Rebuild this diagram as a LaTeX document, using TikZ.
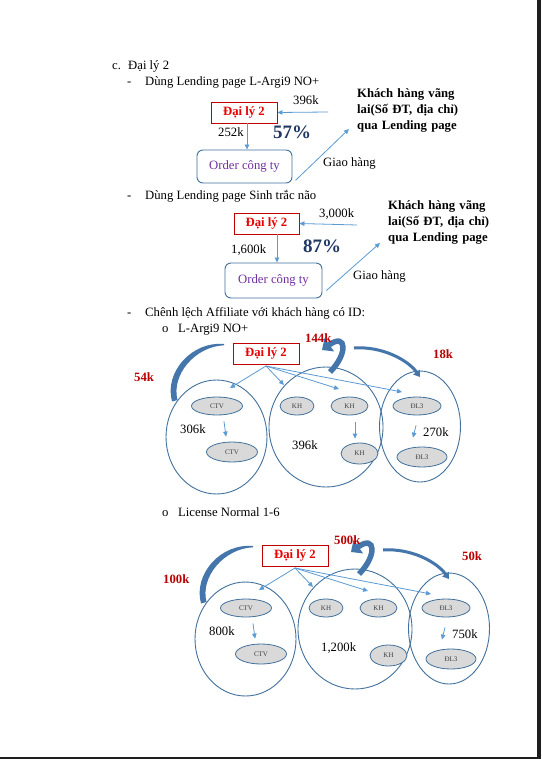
\documentclass[tikz,border=0pt]{standalone}
\usepackage{fontspec}
\setmainfont{Liberation Serif}
\usetikzlibrary{arrows.meta,shapes.geometric}
\definecolor{lineblue}{RGB}{91,155,213}
\definecolor{darkblue}{RGB}{65,113,156}
\definecolor{arcblue}{RGB}{68,118,172}
\definecolor{boxred}{RGB}{192,0,0}
\definecolor{txtred}{RGB}{235,0,0}
\definecolor{lblred}{RGB}{185,0,0}
\definecolor{pctblue}{RGB}{31,56,100}
\definecolor{purp}{RGB}{112,48,160}
\definecolor{smgray}{RGB}{217,217,217}
\definecolor{pageshadow}{RGB}{30,30,30}
\tikzset{
  txt/.style={anchor=base west, inner sep=0, font=\fontsize{12.7}{15.5}\selectfont},
  redlbl/.style={anchor=base west, inner sep=0, text=lblred, font=\fontsize{12.7}{15.5}\selectfont\bfseries},
  pct/.style={anchor=base west, inner sep=0, text=pctblue, font=\fontsize{19}{20}\selectfont\bfseries},
  khtxt/.style={anchor=base west, inner sep=0, text width=120pt, align=left, font=\fontsize{12.7}{16}\selectfont\bfseries},
  redbox/.style={draw=boxred, line width=0.9pt, minimum width=66pt, minimum height=21pt, inner sep=0, text=txtred, font=\fontsize{12.7}{15}\selectfont\bfseries},
  orderbox/.style={draw=darkblue, rounded corners=6pt, line width=0.9pt, inner sep=0, text=purp, font=\fontsize{12.7}{15}\selectfont},
  thinarr/.style={draw=lineblue, line width=0.8pt, -{Triangle[length=5pt,width=4.5pt]}},
  bigell/.style={ellipse, draw=darkblue, line width=0.9pt, inner sep=0},
  smell/.style={ellipse, draw=darkblue, fill=smgray, line width=0.8pt, inner sep=0, text=black!75, font=\fontsize{7}{8}\selectfont},
  hookarr/.style={draw=arcblue, line width=5.5pt, -{Triangle[length=9pt,width=16pt]}},
  overarr/.style={draw=arcblue, line width=3pt, -{Triangle[length=6pt,width=8pt]}},
}
\newcommand\affblock[6]{%
  \node[redbox] (box) at (266,353.5) {Đại lý 2};
  \coordinate (fan) at (266,366);
  \node[bigell, minimum width=101pt, minimum height=114pt] (eL) at (216.5,437) {};
  \node[bigell, minimum width=114pt, minimum height=120pt] (eM) at (326,427) {};
  \node[bigell, minimum width=81pt, minimum height=111pt] (eR) at (420,426.5) {};
  \node[smell, minimum width=51pt, minimum height=18pt] (ctv1) at (217,406) {CTV};
  \node[smell, minimum width=51pt, minimum height=20pt] (ctv2) at (232,452) {CTV};
  \node[smell, minimum width=34pt, minimum height=18pt] (kh1) at (297,406) {KH};
  \node[smell, minimum width=37pt, minimum height=18pt] (kh2) at (349.5,406) {KH};
  \node[smell, minimum width=37pt, minimum height=21pt] (kh3) at (359.5,453.5) {KH};
  \node[smell, minimum width=48pt, minimum height=18pt] (dl1) at (417,406) {ĐL3};
  \node[smell, minimum width=50pt, minimum height=20pt] (dl2) at (422,457) {ĐL3};
  \coordinate (t1) at (230,388);
  \coordinate (t2) at (284,385);
  \coordinate (t3) at (339,389);
  \coordinate (t4) at (402,392);
  \draw[thinarr] (fan) -- (t1);
  \draw[thinarr] (fan) -- (t2);
  \draw[thinarr] (fan) -- (t3);
  \draw[thinarr] (fan) -- (t4);
  \draw[thinarr] ([shift={(7,6)}]ctv1.south) -- ([shift={(-6,-5)}]ctv2.north);
  \draw[thinarr] ([shift={(-1,10)}]dl1.south) -- ([shift={(-9,-9)}]dl2.north);
  % thick curved arrows
  \fill[arcblue] (224,344) .. controls (192,341) and (164,372) .. (172,401.5)
     -- (177.5,400) .. controls (171,375) and (195,346.5) .. (224,345.3) -- cycle;
  \draw[hookarr] (330,372) .. controls (348,354) and (347,332) .. (322,350);
  \draw[overarr] (354,348) .. controls (382,346) and (408,360) .. (420,377);
  \node[redlbl] (lt) at (305,342) {#1};
  \node[redlbl] (lr) at (433,358) {#2};
  \node[redlbl] (ll) at (134,381) {#3};
  \node[txt] (vL) at (180,433) {#4};
  \node[txt] (vM) at (292,449) {#5};
  \node[txt] (vR) at (423,436) {#6};
}
\begin{document}
\begin{tikzpicture}[x=1pt,y=-1pt]
\useasboundingbox (0,0) rectangle (541,759);
\fill[white] (0,0) rectangle (541,759);
\fill[pageshadow] (537,0) rectangle (541,759);
\fill[pageshadow] (0,757) rectangle (541,759);

% heading
\node[txt] (hc) at (112,70) {c.};
\node[txt] (hd) at (128,70) {Đại lý 2};

% section 1
\node[txt] (d1) at (127,86) {-};
\node[txt] (s1) at (145,86) {Dùng Lending page L-Argi9 NO+};
\node[redbox] (b1) at (244,112.5) {Đại lý 2};
\node[orderbox, minimum width=95pt, minimum height=33pt] (o1) at (244.5,166.5) {Order công ty};
\node[txt] (v1a) at (293,105) {396k};
\node[txt] (v1b) at (218,137) {252k};
\node[pct] (p1) at (273,139) {57\%};
\node[txt] (g1) at (323,167) {Giao hàng};
\node[khtxt] (k1) at (357,98) {\makebox[99pt][s]{Khách hàng  vãng}\\lai(Số ĐT, địa chỉ)\\qua Lending page};
\coordinate (k1in) at (328,112);
\coordinate (g1tip) at (349,129);
\draw[thinarr] (k1in) -- (b1.east);
\draw[thinarr] ([xshift=3pt]b1.south) -- ([xshift=2.5pt]o1.north);
\draw[thinarr] ([shift={(3,-3)}]o1.south east) -- (g1tip);

% section 2
\node[txt] (d2) at (127,200) {-};
\node[txt] (s2) at (145,200) {Dùng Lending page Sinh trắc não};
\node[redbox, minimum width=65pt] (b2) at (266.5,223.5) {Đại lý 2};
\node[orderbox, minimum width=97pt, minimum height=35pt] (o2) at (273.5,280.5) {Order công ty};
\node[txt] (v2a) at (319,218) {3,000k};
\node[txt] (v2b) at (231,253) {1,600k};
\node[pct] (p2) at (303,252) {87\%};
\node[txt] (g2) at (353,279) {Giao hàng};
\node[khtxt] (k2) at (388,210) {\makebox[99pt][s]{Khách hàng  vãng}\\lai(Số ĐT, địa chỉ)\\qua Lending page};
\coordinate (k2in) at (357,225);
\coordinate (g2tip) at (380,243);
\draw[thinarr] (k2in) -- (b2.east);
\draw[thinarr] ([xshift=10.5pt]b2.south) -- ([xshift=3.5pt]o2.north);
\draw[thinarr] ([shift={(4,-8)}]o2.south east) -- (g2tip);

% section 3
\node[txt] (d3) at (127,316) {-};
\node[txt] (s3) at (145,316) {Chênh lệch Affiliate với khách hàng có ID:};
\node[txt] (o3) at (162,332) {o};
\node[txt] (s3a) at (178,332) {L-Argi9 NO+};
\begin{scope}[name prefix=s3-]
  \affblock{144k}{18k}{54k}{306k}{396k}{270k}
  \draw[thinarr] ([shift={(5.5,7)}]kh2.south) -- ([shift={(-4.5,-4)}]kh3.north);
\end{scope}

% section 4
\node[txt] (o4) at (162,516) {o};
\node[txt] (s4a) at (178,516) {License Normal 1-6};
\begin{scope}[shift={(29,202)}, name prefix=s4-]
  \affblock{500k}{50k}{100k}{800k}{1,200k}{750k}
\end{scope}
\end{tikzpicture}
\end{document}
